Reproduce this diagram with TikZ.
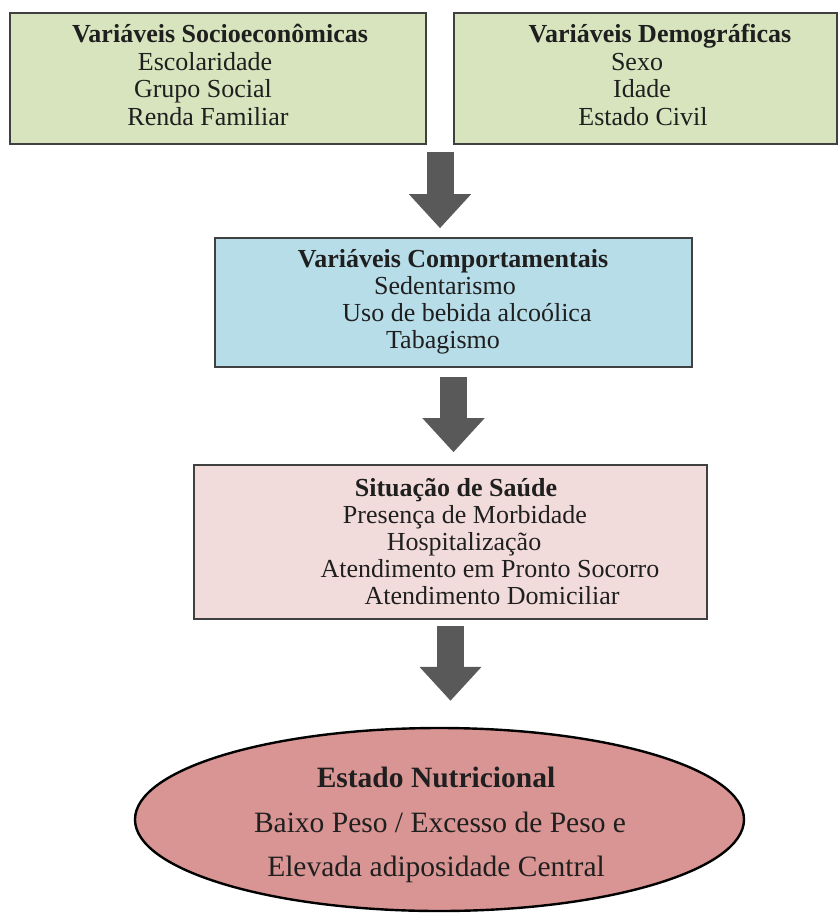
\documentclass[tikz,border=0pt]{standalone}
\usepackage{fontspec}
\setmainfont{Liberation Serif}
\usepackage{tikz}
\usetikzlibrary{arrows.meta,calc,shapes.geometric}
\definecolor{VerdeClaro}{RGB}{215,228,189}
\definecolor{AzulClaro}{RGB}{183,221,232}
\definecolor{RosaClaro}{RGB}{242,220,219}
\definecolor{RosaEscuro}{RGB}{217,149,148}
\definecolor{CinzaSeta}{RGB}{89,89,89}
\definecolor{Borda}{RGB}{64,64,64}

\begin{document}
\begin{tikzpicture}[x=1pt,y=-1pt,
  caixa/.style={draw=Borda,line width=1.6pt,rectangle,inner sep=0pt},
  linha/.style={anchor=base,inner sep=0pt,text=black!88,font=\fontsize{26}{28}\selectfont},
  titulo/.style={linha,font=\fontsize{26}{28}\selectfont\bfseries},
  grande/.style={anchor=base,inner sep=0pt,text=black!88,font=\fontsize{29.5}{32}\selectfont},
  seta/.style={draw=CinzaSeta,line width=27pt,-{Triangle[length=34pt,width=60pt]}}]
  \useasboundingbox (0,0) rectangle (838,913);

  % Variaveis socioeconomicas
  \node[caixa,fill=VerdeClaro,minimum width=416pt,minimum height=131pt] (soc) at (218,78.5) {};
  \node[titulo] (soc0) at (220,42) {Variáveis Socioeconômicas};
  \node[linha] (soc1) at (205,70) {Escolaridade};
  \node[linha] (soc2) at (203,97) {Grupo Social};
  \node[linha] (soc3) at (208,125) {Renda Familiar};

  % Variaveis demograficas
  \node[caixa,fill=VerdeClaro,minimum width=383pt,minimum height=131pt] (dem) at (645.5,78.5) {};
  \node[titulo] (dem0) at (660,42) {Variáveis Demográficas};
  \node[linha] (dem1) at (637,70) {Sexo};
  \node[linha] (dem2) at (642,97) {Idade};
  \node[linha] (dem3) at (643,125) {Estado Civil};

  % Variaveis comportamentais
  \node[caixa,fill=AzulClaro,minimum width=477pt,minimum height=129pt] (comp) at (453.5,302.5) {};
  \node[titulo] (comp0) at (453,267) {Variáveis Comportamentais};
  \node[linha] (comp1) at (445,294) {Sedentarismo};
  \node[linha] (comp2) at (467,321) {Uso de bebida alcoólica};
  \node[linha] (comp3) at (443,348) {Tabagismo};

  % Situacao de saude
  \node[caixa,fill=RosaClaro,minimum width=513pt,minimum height=154pt] (sit) at (450.5,542) {};
  \node[titulo] (sit0) at (456,496) {Situação de Saúde};
  \node[linha] (sit1) at (465,523) {Presença de Morbidade};
  \node[linha] (sit2) at (464,550) {Hospitalização};
  \node[linha] (sit3) at (490,577) {Atendimento em Pronto Socorro};
  \node[linha] (sit4) at (492,604) {Atendimento Domiciliar};

  % Estado nutricional
  \node[ellipse,draw=black,line width=2.4pt,fill=RosaEscuro,inner sep=0pt,
        minimum width=609pt,minimum height=183pt] (nut) at (439.5,819.5) {};
  \node[grande,font=\fontsize{29.5}{32}\selectfont\bfseries] (nut0) at (436,787) {Estado Nutricional};
  \node[grande] (nut1) at (440,832) {Baixo Peso / Excesso de Peso e};
  \node[grande] (nut2) at (436,876) {Elevada adiposidade Central};

  % Setas
  \coordinate (vao) at ($(soc.south east)!.5!(dem.south west)$);
  \draw[seta,shorten <=7pt,shorten >=9pt] (vao) -- (vao |- comp.north);
  \draw[seta,shorten <=9pt,shorten >=12pt] (comp.south) -- (comp.south |- sit.north);
  \draw[seta,shorten <=6pt,shorten >=26pt] (sit.south) -- (sit.south |- nut.north);
\end{tikzpicture}
\end{document}
